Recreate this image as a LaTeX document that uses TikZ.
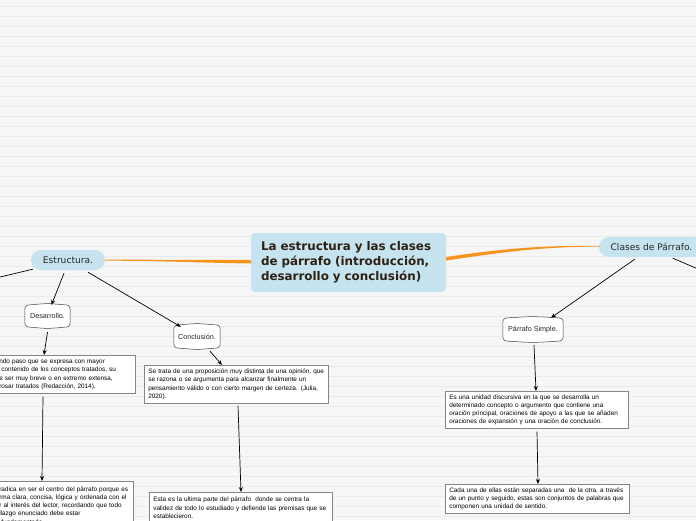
\documentclass[tikz,border=0pt]{standalone}
\usepackage{fontspec}
\setmainfont{Liberation Sans}
\newfontfamily\verd{DejaVu Sans}
\usetikzlibrary{arrows.meta,calc,backgrounds}
\definecolor{bgc}{HTML}{F6F6F6}
\definecolor{rulec}{HTML}{EBEBEB}
\definecolor{topic}{HTML}{C6E4F0}
\definecolor{orng}{HTML}{F7941E}
\definecolor{ctext}{HTML}{2E2013}
\definecolor{bord}{HTML}{858585}
\newcommand\tapeshape[1]{%
 \draw[tapeline] ($(#1.north west)+(0,5)$) .. controls ($(#1.north west)+(0,1)$) and ($(#1.north west)+(2,0)$) .. ($(#1.north west)+(6,0)$)
 .. controls ($(#1.north)+(0,-1.5)$) .. ($(#1.north east)+(-6,0)$)
 .. controls ($(#1.north east)+(-2,0)$) and ($(#1.north east)+(0,1)$) .. ($(#1.north east)+(0,5)$)
 -- ($(#1.south east)+(0,-5)$)
 .. controls ($(#1.south east)+(0,-1)$) and ($(#1.south east)+(-2,0)$) .. ($(#1.south east)+(-6,0)$)
 .. controls ($(#1.south)+(0,1.5)$) .. ($(#1.south west)+(6,0)$)
 .. controls ($(#1.south west)+(2,0)$) and ($(#1.south west)+(0,-1)$) .. ($(#1.south west)+(0,-5)$)
 -- cycle;}
\begin{document}
\begin{tikzpicture}[x=1pt,y=-1pt,
 topicnode/.style={fill=topic, rounded corners=10pt, inner sep=0pt, font=\verd\fontsize{9.1}{11}\selectfont, text=black!85},
 tapenode/.style={inner sep=0pt, font=\fontsize{7.2}{9}\selectfont, text=black!85},
 tapeline/.style={draw=black!75, fill=white, line width=0.5pt},
 textbox/.style={draw=bord, fill=white, line width=0.6pt, inner xsep=4pt, inner ysep=3pt, align=left, anchor=north west, font=\fontsize{6.4}{8.3}\selectfont},
 conn/.style={line width=0.7pt, draw=black, -{Stealth[length=5pt,width=4pt]}},
 plainconn/.style={line width=0.7pt, draw=black},
 ]
\path[use as bounding box] (0,0) rectangle (696,520);
\clip (0,0) rectangle (696,520);

% central node
\node[fill=topic, rounded corners=4pt, inner xsep=10pt, inner ysep=0pt, text width=175pt, minimum height=59pt, align=left,
 font=\verd\bfseries\fontsize{11.9}{15}\selectfont, text=ctext] (main) at (348.5,262.5)
 {La estructura y las clases\\de párrafo (introducción,\\desarrollo y conclusión)};

% topics
\node[topicnode, minimum width=74pt, minimum height=20pt] (estr) at (68,260) {Estructura.};
\node[topicnode, minimum width=105pt, minimum height=20pt] (clas) at (651.5,247) {Clases de Párrafo.};

% orange connectors (tapered)
\fill[orng] ($(estr.east)+(0,-0.5)$) .. controls (170,260) and (210,259.6) .. ($(main.west)+(0,-2.5)$)
 -- ($(main.west)+(0,1)$) .. controls (210,263) and (170,261) .. ($(estr.east)+(0,0.6)$) -- cycle;
\fill[orng] ($(main.east)+(0,-5.5)$) .. controls (500,249) and (540,245.3) .. ($(clas.west)+(1,-1.2)$)
 -- ($(clas.west)+(1,-0.4)$) .. controls (540,246.6) and (500,252.6) .. ($(main.east)+(0,-2)$) -- cycle;

% tape nodes
\node[tapenode, minimum width=45pt, minimum height=22pt] (desa) at (47.5,316) {Desarrollo.};
\node[tapenode, minimum width=46pt, minimum height=23pt] (conc) at (197,336.5) {Conclusión.};
\node[tapenode, minimum width=60pt, minimum height=23pt] (psim) at (533,329.5) {Párrafo Simple.};
\begin{scope}[on background layer]
% background with notebook rules
\fill[bgc] (0,0) rectangle (696,520);
\foreach \k in {0,...,51} {\draw[rulec, line width=0.7pt] (0,6+10*\k) -- (696,6+10*\k);}
\tapeshape{desa}
\tapeshape{conc}
\tapeshape{psim}
\end{scope}

% text boxes
\node[textbox, text width=132pt, minimum height=38pt] (b1) at (-5,355)
 {ndo paso que se expresa con mayor\\
 \ contenido de los conceptos tratados, su\\
 e ser muy breve o en extremo extensa,\\
 rosar tratados (Redacción, 2014).};
\node[textbox, text width=130pt, minimum height=48pt] (b2) at (-5,481)
 {radica en ser el centro del párrafo porque es\\
 rma clara, concisa, lógica y ordenada con el\\
 r al interés del lector, recordando que todo\\
 llazgo enunciado debe estar\\
 \ fundamentado.};
\node[textbox, text width=176pt, minimum height=38pt] (b3) at (144,365)
 {Se trata de una proposición muy distinta de una opinión, que\\
 se razona o se argumenta para alcanzar finalmente un\\
 pensamiento válido o con cierto margen de certeza. (Julia,\\
 2020).};
\node[textbox, text width=175pt, minimum height=31pt] (b4) at (149,492)
 {Esta es la ultima parte del párrafo \ donde se centra la\\
 validez de todo lo estudiado y defiende las premisas que se\\
 establecieron.};
\node[textbox, text width=175pt, minimum height=37pt] (b5) at (445,391)
 {Es una unidad discursiva en la que se desarrolla un\\
 determinado concepto o argumento que contiene una\\
 oración principal, oraciones de apoyo a las que se añaden\\
 oraciones de expansión y una oración de conclusión.};
\node[textbox, text width=176pt, minimum height=29pt] (b6) at (445,484)
 {Cada una de ellas están separadas una \ de la otra, a través\\
 de un punto y seguido, estas son conjuntos de palabras que\\
 componen una unidad de sentido.};

% black connectors
\coordinate (offL) at (-20,281.8);
\coordinate (offR) at (720,278.4);
\draw[plainconn] ($(estr.south west)+(2,-1)$) -- (offL);
\draw[conn] ($(estr.south)+(-4,3)$) -- ($(desa.north)+(4,0)$);
\draw[conn] ($(estr.south)+(20,2)$) -- ($(conc.north west)+(7,2)$);
\draw[conn] ($(desa.south)+(0,5)$) -- ($(b1.north west)+(49,0)$);
\draw[conn] ($(b1.south west)+(48,3)$) -- ($(b2.north west)+(47,0)$);
\draw[conn] ($(conc.south)+(13,3)$) -- ($(b3.north west)+(78,0)$);
\draw[conn] ($(b3.south west)+(94,2)$) -- ($(b4.north west)+(92,0)$);
\draw[conn] ($(clas.south west)+(36,2)$) -- ($(psim.north)+(18,0)$);
\draw[plainconn] ($(clas.south west)+(74,1)$) -- (offR);
\draw[conn] ($(psim.south)+(1,4)$) -- ($(b5.north west)+(91,0)$);
\draw[conn] ($(b5.south west)+(92,3)$) -- ($(b6.north west)+(93,0)$);
\end{tikzpicture}
\end{document}
